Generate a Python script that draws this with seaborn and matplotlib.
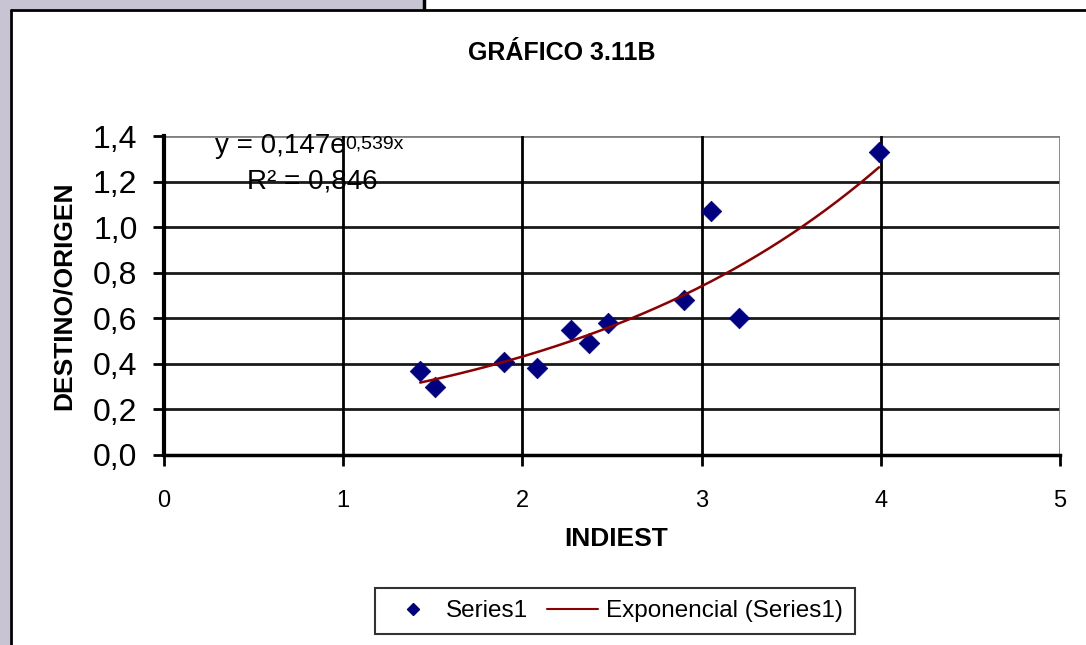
import matplotlib
matplotlib.use('Agg')
import matplotlib.pyplot as plt
import numpy as np
import pandas as pd
import seaborn as sns
from matplotlib.lines import Line2D
from matplotlib.patches import Rectangle

# data
indiest = [1.43, 1.51, 1.90, 2.08, 2.27, 2.37, 2.48, 2.90, 3.05, 3.21, 3.99]
destino_origen = [0.37, 0.30, 0.41, 0.38, 0.55, 0.49, 0.58, 0.68, 1.07, 0.60, 1.33]

# exponential trendline shown on the chart: y = 0,147 e^(0,539x)
trend_a = 0.147
trend_b = 0.539
r_squared = 0.846

x_ticks = [0, 1, 2, 3, 4, 5]
y_ticks = [0.0, 0.2, 0.4, 0.6, 0.8, 1.0, 1.2, 1.4]

df = pd.DataFrame({'INDIEST': indiest, 'DESTINO/ORIGEN': destino_origen})

sns.set_theme(style='white')
plt.rcParams['font.family'] = ['Liberation Sans', 'DejaVu Sans']
plt.rcParams['text.color'] = 'black'
plt.rcParams['axes.labelcolor'] = 'black'
plt.rcParams['xtick.color'] = 'black'
plt.rcParams['ytick.color'] = 'black'

fig = plt.figure(figsize=(10.86, 6.45), dpi=100)
ax = fig.add_axes([164 / 1086, 1 - 455 / 645, 896 / 1086, 319 / 645])

# frame around the chart area (gray strips, black border)
fig.patches.append(Rectangle((0, 0), 10 / 1086, 1, transform=fig.transFigure,
                             facecolor='#c9c4d4', edgecolor='none', zorder=0))
fig.patches.append(Rectangle((0, 1 - 9 / 645), 423 / 1086, 9 / 645, transform=fig.transFigure,
                             facecolor='#c9c4d4', edgecolor='none', zorder=0))
fig.lines.append(Line2D([424 / 1086, 424 / 1086], [1 - 9 / 645, 1], transform=fig.transFigure,
                        color='black', lw=2.5))
fig.lines.append(Line2D([10.5 / 1086, 1], [1 - 10 / 645, 1 - 10 / 645], transform=fig.transFigure,
                        color='black', lw=2))
fig.lines.append(Line2D([10.5 / 1086, 10.5 / 1086], [0, 1 - 10 / 645], transform=fig.transFigure,
                        color='black', lw=2))

# scatter + trendline
sns.scatterplot(data=df, x='INDIEST', y='DESTINO/ORIGEN', ax=ax, marker='D', s=110,
                color='#000080', edgecolor='#000080', linewidth=0.5, zorder=3, legend=False)
x_fit = np.linspace(min(indiest), max(indiest), 200)
sns.lineplot(x=x_fit, y=trend_a * np.exp(trend_b * x_fit), ax=ax, color='#8b0000', lw=1.8,
             zorder=4, legend=False)

ax.set_xlim(0, 5)
ax.set_ylim(0, 1.4)
ax.set_xticks(x_ticks)
ax.set_yticks(y_ticks)
ax.set_xticklabels([str(t) for t in x_ticks], fontsize=17)
ax.set_yticklabels([f'{t:.1f}'.replace('.', ',') for t in y_ticks], fontsize=23)

# excel style gridlines
for yv in y_ticks[1:]:
    ax.axhline(yv, color='#808080' if yv == 1.4 else '#1a1a1a', lw=2, zorder=1)
for xv in x_ticks[1:-1]:
    ax.axvline(xv, color='black', lw=2, zorder=1)

for side in ['top', 'right']:
    ax.spines[side].set_visible(False)
ax.axvline(5, color='#808080', lw=2, zorder=1)
ax.spines['left'].set_linewidth(3)
ax.spines['left'].set_color('black')
ax.spines['bottom'].set_linewidth(2.5)
ax.spines['bottom'].set_color('black')
ax.tick_params(axis='both', direction='out', length=8, width=2, color='black', left=True, bottom=True)
ax.tick_params(axis='x', pad=17)
ax.tick_params(axis='y', pad=11)

ax.set_xlabel('INDIEST', fontsize=19, fontweight='bold')
ax.set_ylabel('DESTINO/ORIGEN', fontsize=19, fontweight='bold')
ax.xaxis.set_label_coords(0.505, -0.225)
ax.yaxis.set_label_coords(-0.099, 0.5)

fig.text(562 / 1086, 1 - 53 / 645, 'GRÁFICO 3.11B', fontsize=18, fontweight='bold',
         ha='center', va='center')

# trendline equation text
eq = ax.text((215 - 164) / 896, (455 - 146) / 319, 'y = 0,147e', transform=ax.transAxes,
             fontsize=20, ha='left', va='center', zorder=5)
ax.annotate('0,539x', xy=(1, 0.92), xycoords=eq, fontsize=14, ha='left', va='top', zorder=5)
ax.text((312 - 164) / 896, (455 - 181) / 319, 'R² = ' + f'{r_squared:.3f}'.replace('.', ','),
        transform=ax.transAxes, fontsize=20, ha='center', va='center', zorder=5)

handles = [
    Line2D([], [], marker='D', linestyle='none', color='#000080', markersize=6),
    Line2D([], [], color='#8b0000', lw=1.5),
]
leg = fig.legend(handles, ['Series1', 'Exponencial (Series1)'], loc='center',
                 bbox_to_anchor=(615 / 1086, 1 - 611 / 645), ncol=2, fontsize=17.5,
                 frameon=True, fancybox=False, edgecolor='black', handlelength=2.1,
                 columnspacing=0.8, handletextpad=0.3, borderpad=0.5)
leg.get_frame().set_linewidth(1.5)

fig.savefig('out.png', dpi=100)
